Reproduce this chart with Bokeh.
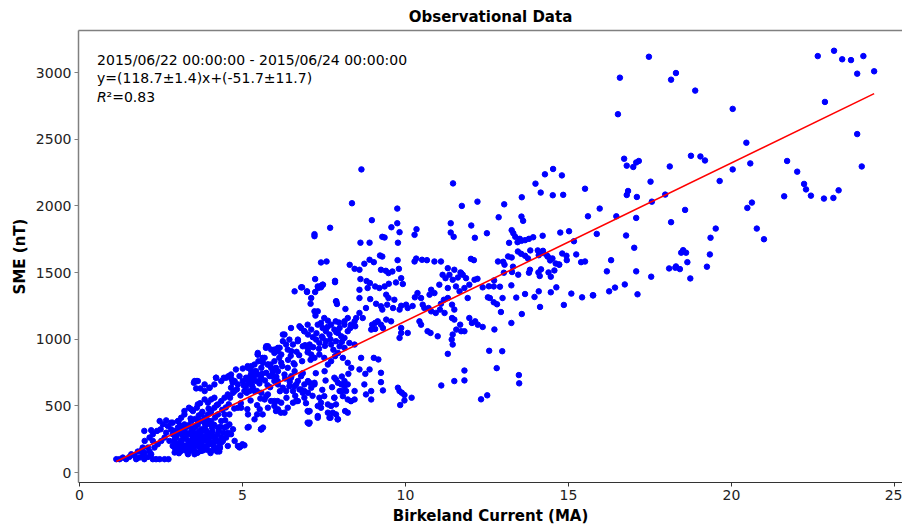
from bokeh.plotting import figure
from bokeh.models import Range1d, Label, LinearAxis, FixedTicker
from bokeh.embed import file_html
from bokeh.resources import INLINE

# ---- data (Birkeland current in MA, SME in nT) ----
upper_right = [
    (17.47,3119),(16.58,2962),(18.15,2947),(18.30,2997),(18.89,2865),(16.52,2688),(20.04,2728),
    (22.65,3124),(23.15,3164),(23.40,3100),(23.67,3094),(24.05,3124),(23.86,2992),(24.38,3010),
    (22.87,2780),(23.86,2539),(24.00,2296),(20.46,2474),(20.58,2319),(20.04,2274),(19.64,2187),
    (21.71,2337),(22.02,2257),(22.23,2165),(22.29,2124),(22.44,2077),(22.84,2055),(23.13,2060),
    (23.29,2117),(21.62,2072),(20.49,1985),(20.63,2025),(20.78,1830),(21.00,1750),(18.76,2376),
    (19.05,2371),(19.19,2341),(18.11,2296),(17.52,2182),(17.97,2085),(17.56,2032),(18.58,1970),
    (18.15,1878),(19.52,1830),(19.36,1761),(19.34,1636),(19.25,1544),(18.46,1649),(18.52,1668),
    (18.61,1649),(18.65,1578),(18.09,1531),(18.28,1536),(18.30,1546),(18.42,1526),(18.74,1456),
    (16.71,2354),(16.79,2302),(16.99,2292),(17.08,2326),(17.16,2337),(16.79,2082),(16.83,2112),
    (17.10,2067),(15.51,2129),(15.96,1980),(15.60,1922),(16.47,1922),(17.08,1910),(15.87,1790),
    (16.77,1778),(17.02,1686),(16.31,1593),(15.39,1578),(15.51,1583),(16.18,1509),(17.08,1509),
    (17.54,1469),(16.73,1411),(16.43,1387),(16.25,1359),(15.75,1329),(15.42,1314),(17.12,1337),
]
upper_mid = [
    (8.65,2274),(8.36,2020),(11.46,2169),(11.73,2000),(12.21,2032),(7.21,1788),(7.21,1773),
    (7.69,1836),(8.97,1893),(9.75,1980),(9.75,1870),(9.82,1803),(9.57,1840),(9.77,1724),
    (9.29,1768),(9.36,1763),(8.62,1724),(8.90,1724),(10.34,1825),(10.28,1783),(11.39,1870),
    (11.39,1800),(11.48,1768),(12.02,1853),(12.13,1761),(12.50,1795),(12.86,1915),(13.03,2012),
    (13.57,2065),(13.56,1920),(13.61,1888),(13.99,2167),(14.15,2100),(14.28,2237),(14.53,2277),
    (14.80,2229),(14.52,2080),(14.84,2083),(15.02,1810),(14.75,1800),(15.17,1735),(14.21,1776),
    (14.22,1663),(14.09,1630),(14.35,1626),(14.44,1591),(13.26,1818),(13.31,1795),(13.37,1768),
    (13.51,1753),(13.56,1738),(13.67,1743),(13.79,1753),(13.92,1765),(13.18,1723),(13.44,1728),
    (12.84,1583),(13.00,1581),(13.15,1621),(13.26,1613),(13.45,1658),(13.55,1641),(13.67,1626),
    (13.76,1606),(13.83,1666),(14.06,1666),(14.23,1646),(14.37,1619),(14.51,1606),(14.61,1568),
    (14.72,1559),(14.81,1643),(14.94,1626),(14.95,1593),(15.24,1636),(13.82,1521),(13.79,1499),
    (14.08,1501),(14.16,1524),(14.12,1474),(14.39,1501),(14.46,1469),(14.57,1516),(14.71,1561),
    (13.04,1559),(13.02,1499),(13.27,1504),(13.30,1544),(13.46,1484),(12.72,1441),(12.56,1397),
    (12.90,1394),(13.25,1404),(13.40,1312),(13.67,1339),(14.09,1359),(14.46,1352),(14.63,1389),
    (14.86,1257),(15.09,1342),(15.76,1329),(13.96,1317),(14.13,1242),(12.98,1309),(12.59,1309),
    (12.71,1277),(12.81,1262),(12.93,1204),(13.57,1189),(13.25,1122),(12.73,1073),(12.57,913),
    (12.97,910),(12.80,783),(13.48,731),(13.49,669),(12.32,549),(12.51,579),
]
middle_band = [
    (9.22,1628),(9.29,1620),(8.90,1596),(9.03,1578),(8.74,1566),(8.59,1521),(8.44,1528),(8.29,1558),
    (8.62,1451),(8.81,1436),(8.91,1421),(9.25,1521),(9.40,1513),(9.48,1496),(9.60,1508),(9.76,1593),
    (9.80,1528),(9.87,1458),(9.92,1414),(9.71,1426),(9.49,1416),(9.36,1396),(9.20,1384),(9.07,1396),
    (8.84,1384),(8.59,1371),(8.59,1309),(8.79,1234),(8.92,1301),(9.10,1266),(9.25,1247),(9.29,1222),
    (9.44,1259),(9.48,1309),(9.41,1334),(9.66,1296),(9.62,1234),(9.82,1222),(9.87,1251),(10.02,1259),
    (10.07,1234),(10.22,1249),(10.29,1314),(10.37,1346),(10.48,1309),(10.53,1259),(10.58,1234),
    (10.71,1234),(10.79,1209),(10.93,1197),(11.06,1222),(11.09,1266),(11.18,1296),(11.30,1309),
    (11.43,1259),(11.50,1222),(11.23,1458),(11.14,1483),(11.35,1483),(11.45,1446),(11.61,1463),
    (11.71,1496),(11.76,1483),(11.86,1458),(11.96,1409),(12.12,1446),(12.21,1453),(12.37,1389),
    (12.53,1314),(12.71,1396),(10.28,1583),(10.33,1605),(10.51,1596),(10.66,1593),(10.89,1583),
    (11.09,1583),(11.30,1533),(11.50,1521),(11.69,1501),(12.01,1603),(12.10,1593),(11.04,1409),
    (10.89,1346),(10.79,1371),(10.74,1334),(11.30,1384),(11.55,1396),(11.81,1384),(11.66,1359),
    (11.91,1309),(11.43,1159),(11.50,1147),(11.68,1109),(11.56,1072),(11.71,1060),(11.81,1060),
    (11.96,1159),(12.04,1122),(12.14,1134),(12.22,1109),(12.37,1092),(11.20,1197),(10.99,1022),
    (10.68,1060),(10.77,1047),(10.43,1134),(10.48,1109),(10.07,1047),(9.87,1047),(9.82,1010),
    (9.87,1084),(9.56,1134),(9.41,1147),(9.25,1109),(9.15,1134),(9.07,1122),(8.98,1109),(8.95,1072),
    (9.07,1077),(9.31,1084),(8.69,1159),(8.59,1197),(8.49,1159),(8.44,1134),(8.46,1097),(8.33,1109),
    (8.23,1159),(8.13,1109),(11.45,1035),(11.42,997),(11.45,960),(11.30,890),(11.50,686),
    (11.81,765),(11.81,691),(11.10,653),
]
lower_mid = [
    (9.77,636),(9.82,611),(9.89,598),(9.97,581),(9.84,506),(9.97,541),(10.19,561),(9.25,678),
    (9.31,616),(8.95,548),(8.79,586),(9.03,860),(9.17,848),(8.64,860),(8.44,960),(8.59,773),
    (8.77,740),(8.90,773),(9.25,748),(8.44,548),(8.74,661),(8.95,611),
    (7.00,461),(7.06,374),(7.31,424),(7.70,411),(7.92,399),(8.15,461),(8.33,536),(7.41,524),
    (7.82,561),(8.03,611),(8.23,661),(8.44,611),(8.13,686),(7.82,711),(7.52,760),(7.21,661),
    (6.90,611),
]
upper_left = [
    (6.98,1359),(7.23,1451),(7.41,1389),(7.31,1396),(7.46,1409),(7.58,1583),(7.41,1576),
    (7.84,1438),(7.87,1284),(7.90,1264),(7.21,1209),(7.11,1309),(6.80,1389),
    (6.60,1359),(6.83,1389),(6.98,1354),(7.23,1354),(7.32,1384),(7.40,1399),(7.47,1409),
    (7.84,1428),(7.88,1284),(7.09,1266),(7.31,1209),(7.24,1177),(8.16,1227),(8.13,1134),
    (7.51,1159),(7.62,1139),(7.72,1109),(7.86,1134),(7.98,1084),(7.31,1109),(7.41,1122),
    (7.46,1084),(7.56,1060),(7.67,1035),(7.82,1072),(7.93,1047),(8.03,1022),(8.13,1010),
    (8.23,1060),(8.31,1084),(6.80,1084),(6.90,1060),(7.01,1035),(7.11,1072),(7.16,1015),
    (7.26,997),(7.36,972),(7.46,1010),(7.56,985),(7.72,960),(7.87,985),(7.98,947),(8.13,935),
    (8.28,972),(6.29,1035),(6.44,997),(6.55,960),(6.70,985),(6.85,947),(7.01,922),(7.11,885),
    (7.21,860),(7.36,885),(7.51,860),(7.62,810),(7.72,835),(7.84,873),(7.93,897),(8.08,860),
    (8.23,823),(8.34,785),
]
dense_band = [
    (7.87,698),(7.93,673),(8.03,661),(8.13,648),(8.18,611),(7.98,611),(8.08,573),(8.23,548),
    (7.82,561),(7.87,511),(7.72,499),(7.62,511),(7.51,573),(7.36,561),(7.31,499),(7.41,486),
    (7.62,449),(7.77,449),(7.67,411),(7.87,436),(8.23,449),(8.33,536),(7.93,399),(7.03,456),
    (7.04,366),(7.31,411),(6.90,561),(7.01,598),(6.70,536),(6.55,524),(6.39,486),(6.29,449),
    (6.19,524),(6.09,474),(5.98,499),(5.88,536),(5.78,586),(5.68,548),(5.58,598),(5.53,474),
    (5.63,337),(5.37,399),(5.45,436),
    (5.68,860),(5.78,810),(5.88,785),(5.98,835),(6.09,760),(6.19,823),(6.29,735),(6.39,785),
    (6.50,723),(6.60,760),(6.70,686),(6.80,723),(6.90,661),(7.01,686),(7.11,636),(7.21,673),
    (5.88,723),(5.98,686),(6.09,661),(6.24,636),(6.34,611),(6.44,648),(6.55,611),(6.65,661),
    (6.75,623),(6.85,598),(5.47,735),(5.58,698),(5.42,686),(5.32,636),(5.22,611),(5.27,760),
    (5.37,810),(5.49,835),(5.58,785),(5.73,748),(5.83,723),(5.93,760),(5.11,711),(5.01,686),
    (5.17,673),(5.06,611),
    (4.86,661),(4.76,611),(4.65,636),(4.55,586),(4.45,561),(4.35,536),(4.25,511),(4.14,486),
    (4.04,461),(3.94,436),(3.84,411),(3.73,386),(3.63,361),(3.53,337),(3.43,312),(3.33,287),
    (3.22,262),(3.12,237),(3.02,212),(2.92,187),
    (4.65,735),(4.50,711),(4.35,686),(4.14,661),(3.99,636),(3.84,611),(3.58,686),(3.51,673),
    (3.71,631),(4.04,548),(3.84,548),(3.63,511),(3.43,474),(3.22,436),(3.02,386),(2.86,374),
    (4.19,711),(4.43,711),(4.91,723),(4.80,773),(5.01,780),(5.17,785),(5.25,730),
    (5.78,947),(5.88,922),(6.09,935),(6.24,985),(6.34,960),(6.50,910),(6.19,885),(5.98,897),
    (5.47,897),(5.63,823),(5.27,798),(5.42,760),(4.70,673),(4.57,723),(4.67,698),
]
band_extra = [
    (4.62,561),(4.71,598),(4.83,624),(4.94,578),(5.04,652),(5.13,598),(5.21,700),(5.29,655),
    (5.35,720),(5.44,612),(5.52,668),(5.61,742),(5.69,690),(5.77,655),(5.86,810),(5.95,772),
    (6.04,718),(6.13,860),(6.22,798),(6.31,705),(6.40,845),(6.48,875),(6.57,820),(6.66,905),
    (6.74,880),(6.83,835),(6.92,955),(7.00,902),(7.09,845),(7.17,940),(7.27,1045),(7.35,928),
    (7.44,1020),(7.53,950),(7.61,1092),(7.70,1000),(7.79,920),(7.88,1052),(7.96,1125),(8.05,980),
    (6.35,560),(6.62,575),(6.95,520),(7.15,575),(7.45,620),(7.75,640),(8.05,720),(8.25,740),
    (7.55,690),(7.25,745),(6.45,680),(6.85,745),(6.15,610),(5.85,640),(5.55,555),(5.25,540),
    (4.95,520),(4.75,480),(5.15,475),(5.45,505),
]
dense_blob = [
    (4.60,436),(4.60,361),(4.45,337),(4.65,287),(4.76,237),(4.86,199),(4.96,199),(5.06,204),
    (4.35,262),(4.25,237),(4.14,187),(4.04,162),(3.84,187),(3.73,162),(3.63,150),(3.53,137),
    (3.43,175),(3.33,137),(3.22,187),(3.12,162),(3.02,175),(2.92,150),(3.22,262),(3.43,287),
    (3.63,287),(3.84,312),(4.04,287),(4.25,337),(4.35,386),(4.45,436),(4.86,486),(4.96,486),
    (5.17,436),(5.19,342),(5.58,324),(4.25,436),(4.04,386),(3.84,374),(3.63,386),(3.43,386),
    (3.22,361),(3.02,337),(4.14,262),(3.94,237),(3.73,212),(3.53,212),(3.33,212),(3.12,212),
    (2.86,287),(2.97,262),(3.07,299),(3.17,324),(3.28,249),(3.38,237),(2.94,224),(3.10,187),
    (3.30,175),(2.86,199),(3.48,262),(3.58,237),(3.68,262),(3.79,237),(3.89,274),(3.99,212),
    (4.09,224),(4.19,175),(4.30,199),(4.40,237),(4.50,262),(4.55,299),(4.71,324),(4.55,199),
    (3.31,152),(3.41,163),(3.52,178),(3.61,148),(3.69,191),(3.79,166),(3.91,171),(4.02,146),
    (4.11,203),(4.22,158),(4.31,184),(3.36,229),(3.47,252),(3.56,208),(3.66,241),(3.76,271),
    (3.87,246),(3.96,296),(4.06,221),(4.16,266),(3.26,301),(3.46,327),(3.67,309),(3.86,352),
    (4.07,333),(4.27,314),(3.57,347),(3.16,277),(3.97,364),(4.36,227),(5.00,212),(4.91,188),
]
blob_extra = [
    (3.05,145),(3.18,205),(3.27,168),(3.39,198),(3.44,232),(3.51,301),(3.58,268),(3.62,205),
    (3.71,284),(3.74,325),(3.81,196),(3.88,318),(3.93,205),(4.01,262),(4.08,305),(4.13,358),
    (4.18,232),(4.24,287),(4.29,158),(4.33,343),(4.41,298),(4.47,392),(4.52,345),(3.35,355),
    (3.55,402),(3.66,428),(3.77,455),(3.92,395),(4.16,412),(3.41,405),(3.28,342),(2.98,278),
    (3.08,352),(3.14,318),(4.38,470),(4.58,512),(4.49,488),(3.96,480),(4.21,505),(3.70,520),
]
low_left = [
    (1.13,100),(1.23,100),(1.33,112),(1.43,100),(1.53,117),(1.59,137),(1.69,125),(1.74,100),
    (1.84,112),(1.94,132),(1.99,100),(2.10,117),(2.20,137),(2.25,100),(2.35,100),(2.46,100),
    (2.61,100),(2.73,100),(2.15,157),(1.99,150),(1.89,162),(1.79,157),(2.10,187),(1.94,187),
    (2.30,187),(2.40,212),(2.25,237),(2.51,237),(2.61,262),(2.00,237),(2.15,262),(2.25,287),
    (2.38,312),(2.49,324),(2.56,361),(2.71,349),(2.81,324),(2.66,299),(2.76,237),(2.92,249),
    (1.99,312),(2.20,317),(2.46,386),(2.66,391),(2.81,374),(2.94,312),(3.04,386),(3.12,237),
    (2.92,224),(2.97,187),(3.12,187),
    (3.53,686),(3.63,686),(3.58,631),(3.84,661),(3.99,636),(4.19,711),(4.63,723),(4.76,686),
    (3.94,524),(4.14,561),(4.02,449),(3.12,411),(3.22,461),(3.36,486),(3.48,461),(3.60,486),
    (3.73,436),
]
mid_left = [
    (5.73,947),(5.98,922),(6.14,935),(5.47,885),(5.62,860),(5.78,810),(6.03,785),(5.16,798),
    (5.37,760),(5.57,711),(5.93,735),(6.08,686),(5.27,686),(5.11,648),(5.37,611),(5.73,573),
    (5.98,536),(5.78,486),(5.62,436),(6.03,461),(5.16,337),(5.57,324),
    (6.24,1035),(6.49,1084),(6.75,1097),(7.00,1109),(6.70,997),(6.90,1060),(7.06,960),
    (7.00,374),(7.06,461),(5.57,324),(5.72,935),(5.47,885),(6.08,910),(6.39,922),(6.60,810),
    (6.49,711),(6.80,623),(7.06,673),(6.65,536),(6.08,536),(6.18,449),(6.60,648),
]

# fit shown in the annotation
slope = 118.7
intercept = -51.7

x_ticks = [0, 5, 10, 15, 20, 25]
y_ticks = [0, 500, 1000, 1500, 2000, 2500, 3000]

title_text = "Observational Data"
x_label = "Birkeland Current (MA)"
y_label = "SME (nT)"
note_lines = ["2015/06/22 00:00:00 - 2015/06/24 00:00:00", "y=(118.7\u00b11.4)x+(-51.7\u00b111.7)"]
r2_text = "\u00b2=0.83"

pts = (upper_right + upper_mid + middle_band + lower_mid + upper_left + dense_band + band_extra
       + dense_blob + blob_extra + low_left + mid_left)
xs = [p_[0] for p_ in pts]
ys = [p_[1] for p_ in pts]

FONT = "DejaVu Sans"

p = figure(width=902, height=527, output_backend="svg", toolbar_location=None,
           x_range=Range1d(-0.03, 25.25), y_range=Range1d(-75, 3316),
           min_border_left=78, min_border_right=0, min_border_top=28, min_border_bottom=45,
           title=title_text)
p.title.align = "center"
p.title.text_font = FONT
p.title.text_font_size = "15px"
p.title.text_font_style = "bold"
p.title.text_color = "#000000"

p.xgrid.visible = False
p.ygrid.visible = False
p.outline_line_color = None
p.background_fill_color = "white"
p.border_fill_color = "white"

for ax, ticks, lab in ((p.xaxis[0], x_ticks, x_label), (p.yaxis[0], y_ticks, y_label)):
    ax.ticker = FixedTicker(ticks=ticks)
    ax.axis_label = lab
    ax.axis_label_text_font = FONT
    ax.axis_label_text_font_size = "15px"
    ax.axis_label_text_font_style = "bold"
    ax.axis_label_text_color = "#000000"
    ax.major_label_text_font = FONT
    ax.major_label_text_font_size = "14px"
    ax.major_label_text_color = "#222222"
    ax.minor_tick_line_color = None
    ax.major_tick_in = 0
    ax.major_tick_out = 4
    ax.major_label_standoff = 3
    ax.axis_label_standoff = 4

p.xaxis[0].axis_line_color = "#333333"
p.xaxis[0].major_tick_line_color = "#333333"
p.yaxis[0].axis_line_color = "#808080"
p.yaxis[0].axis_line_width = 1.5
p.yaxis[0].major_tick_line_color = "#808080"

top = LinearAxis(ticker=FixedTicker(ticks=[]), axis_line_color="#808080", axis_line_width=1.5,
                 major_tick_line_color=None, minor_tick_line_color=None,
                 major_label_text_font_size="0px", major_tick_out=0, major_tick_in=0)
p.add_layout(top, "above")

p.scatter(xs, ys, marker="circle", size=5.5, color="#0000ff")

x0, x1 = min(xs), max(xs)
p.line([x0, x1], [slope * x0 + intercept, slope * x1 + intercept], color="#ff0000", line_width=1.6)

p.add_layout(Label(x=0.54, y=3092, text=note_lines[0], text_font=FONT, text_font_size="14px",
                   text_baseline="middle", text_color="#000000"))
p.add_layout(Label(x=0.54, y=2958, text=note_lines[1], text_font=FONT, text_font_size="14px",
                   text_baseline="middle", text_color="#000000"))
p.add_layout(Label(x=0.54, y=2815, text="R", text_font=FONT, text_font_size="14px",
                   text_font_style="italic", text_baseline="middle", text_color="#000000"))
p.add_layout(Label(x=0.54, y=2815, x_offset=9.5, text=r2_text, text_font=FONT, text_font_size="14px",
                   text_baseline="middle", text_color="#000000"))

open("out.html", "w").write(file_html(p, INLINE))
